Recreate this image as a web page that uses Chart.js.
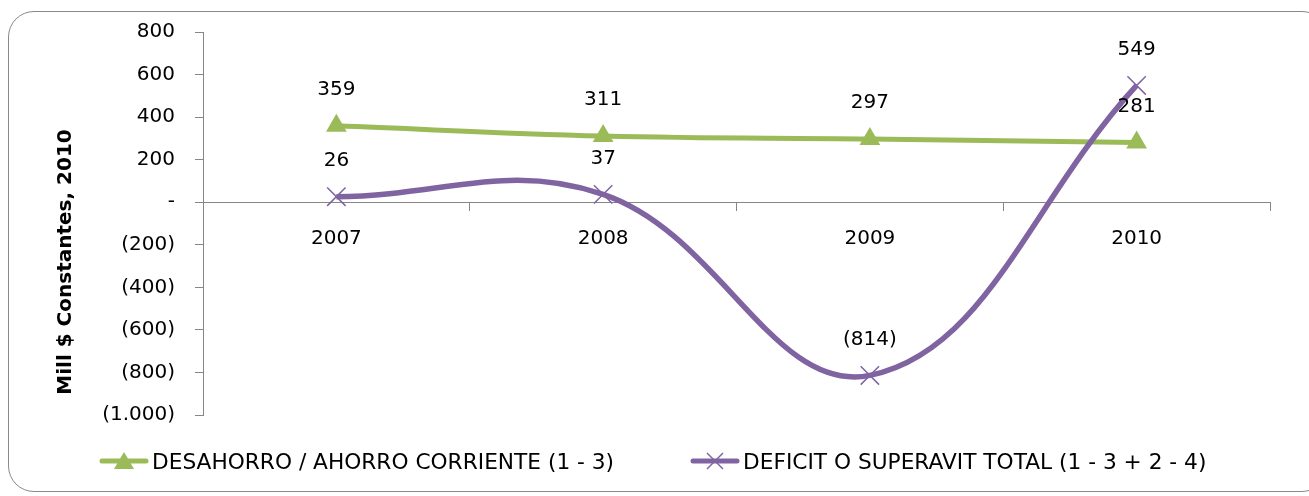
<!DOCTYPE html>
<html>
<head>
<meta charset="utf-8">
<script src="https://cdn.jsdelivr.net/npm/chart.js@4.4.1/dist/chart.umd.min.js"></script>
<style>
    html, body { margin: 0; padding: 0; background: #fff; }
    #wrap { position: relative; width: 1309px; height: 496px; overflow: hidden; }
    #frame {
        position: absolute; left: 8px; top: 11px; width: 1320px; height: 481px;
        border: 1.5px solid #8a8a8a; border-radius: 26px; box-sizing: border-box;
    }
    #chart { position: absolute; left: 0; top: 0; }
    .leg {
        position: absolute; top: 448px; height: 26px; display: flex; align-items: center;
        font-family: "DejaVu Sans", sans-serif; font-size: 21.7px; color: #000; white-space: nowrap;
    }
    .leg svg { margin-right: 3px; }
</style>
</head>
<body>
<div id="wrap">
    <div id="frame"></div>
    <canvas id="chart" width="1309" height="496"></canvas>
    <div class="leg" style="left:99px">
        <svg width="50" height="24"><line x1="3" y1="12" x2="47" y2="12" stroke="#9BBB59" stroke-width="5" stroke-linecap="round"/><polygon points="25,3 35,20 15,20" fill="#9BBB59"/></svg>
        <span id="leg0"></span>
    </div>
    <div class="leg" style="left:690px">
        <svg width="50" height="24"><line x1="3" y1="12" x2="47" y2="12" stroke="#8064A2" stroke-width="5" stroke-linecap="round"/><path d="M17 4 L33 20 M33 4 L17 20" stroke="#8064A2" stroke-width="1.5"/></svg>
        <span id="leg1"></span>
    </div>
</div>
<script>
// datos
const years = ['2007', '2008', '2009', '2010'];
const ahorroCorriente = [359, 311, 297, 281];
const deficitTotal = [26, 37, -814, 549];
const seriesNames = ['DESAHORRO / AHORRO CORRIENTE (1 - 3)', 'DEFICIT O SUPERAVIT TOTAL (1 - 3 + 2 - 4)'];
const yTitle = 'Mill $ Constantes, 2010';

const FONT = 'DejaVu Sans';

document.getElementById('leg0').innerText = seriesNames[0];
document.getElementById('leg1').innerText = seriesNames[1];

function formatNum(v) {
    if (v === 0) return '-';
    const s = Math.abs(v).toString().replace(/\B(?=(\d{3})+(?!\d))/g, '.');
    return v < 0 ? '(' + s + ')' : s;
}

// etiquetas encima de cada punto + titulo del eje Y
const valueLabels = {
    id: 'valueLabels',
    afterDatasetsDraw(chart) {
        const ctx = chart.ctx;
        ctx.save();
        ctx.font = '20px "' + FONT + '"';
        ctx.fillStyle = '#000';
        ctx.textAlign = 'center';
        ctx.textBaseline = 'middle';
        chart.data.datasets.forEach((ds, i) => {
            const meta = chart.getDatasetMeta(i);
            meta.data.forEach((pt, j) => {
                ctx.fillText(formatNum(ds.data[j]), pt.x, pt.y - 36);
            });
        });

        // titulo vertical (Excel lo centra un poco mas abajo)
        ctx.translate(66, 262);
        ctx.rotate(-Math.PI / 2);
        ctx.font = 'bold 20px "' + FONT + '"';
        ctx.fillText(yTitle, 0, 0);
        ctx.restore();
    }
};

const ctx = document.getElementById('chart').getContext('2d');
new Chart(ctx, {
    type: 'line',
    data: {
        labels: years,
        datasets: [
            {
                label: seriesNames[0],
                data: ahorroCorriente,
                borderColor: '#9BBB59',
                backgroundColor: '#9BBB59',
                borderWidth: 5,
                pointStyle: 'triangle',
                pointRadius: 12,
                pointBorderWidth: 0,
                tension: 0.4,
                order: 1
            },
            {
                label: seriesNames[1],
                data: deficitTotal,
                borderColor: '#8064A2',
                backgroundColor: '#8064A2',
                borderWidth: 5.5,
                pointStyle: 'crossRot',
                pointRadius: 13,
                pointBorderWidth: 1.5,
                tension: 0.4,
                order: 0
            }
        ]
    },
    options: {
        responsive: false,
        animation: false,
        layout: { padding: { top: 29, left: 45, right: 39, bottom: 81 } },
        plugins: {
            legend: { display: false },
            tooltip: { enabled: false }
        },
        scales: {
            x: {
                position: { y: 0 },
                offset: true,
                grid: { offset: true, drawOnChartArea: false, drawTicks: true, tickLength: 8, color: '#868686' },
                border: { color: '#868686', width: 1 },
                ticks: { font: { family: FONT, size: 20 }, color: '#000', padding: 17, maxRotation: 0 }
            },
            y: {
                min: -1000,
                max: 800,
                afterFit(scale) { scale.width = 158; },
                grid: { drawOnChartArea: false, drawTicks: true, tickLength: 8, color: '#868686' },
                border: { color: '#868686', width: 1 },
                ticks: {
                    stepSize: 200,
                    font: { family: FONT, size: 20 },
                    color: '#000',
                    padding: 20,
                    callback: v => formatNum(v)
                }
            }
        }
    },
    plugins: [valueLabels]
});
</script>
</body>
</html>
